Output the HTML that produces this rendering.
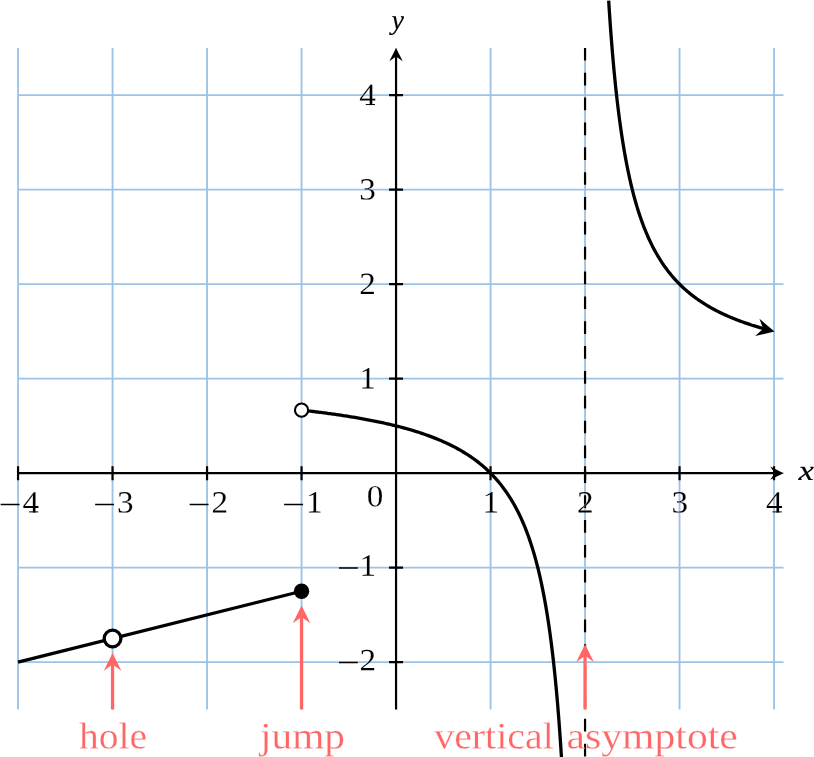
<!DOCTYPE html>
<html><head><meta charset="utf-8"><title>Discontinuities</title>
<style>html,body{margin:0;padding:0;background:#fff;overflow:hidden}svg{display:block;will-change:transform}text{font-family:"Liberation Serif",serif}</style></head><body>
<svg width="814" height="757" viewBox="0 0 814 757">
<rect width="814" height="757" fill="#fff"/>
<path d="M18.05 47.90V709.40M112.55 47.90V709.40M207.05 47.90V709.40M301.55 47.90V709.40M396.05 47.90V709.40M490.55 47.90V709.40M585.05 47.90V709.40M679.55 47.90V709.40M774.05 47.90V709.40M18.05 662.15H783.50M18.05 567.65H783.50M18.05 473.15H783.50M18.05 378.65H783.50M18.05 284.15H783.50M18.05 189.65H783.50M18.05 95.15H783.50" stroke="#9cc3e6" stroke-width="1.85" fill="none"/>
<path d="M18.05 473.15H777.50M396.05 709.40V53.90" stroke="#000" stroke-width="2.2" fill="none"/>
<polygon points="783.50,473.15 770.20,466.45 774.90,473.15 770.20,479.85" fill="#000"/>
<polygon points="396.05,47.90 389.35,61.20 396.05,56.50 402.75,61.20" fill="#000"/>
<path d="M18.05 466.15V480.15M112.55 466.15V480.15M207.05 466.15V480.15M301.55 466.15V480.15M490.55 466.15V480.15M585.05 466.15V480.15M679.55 466.15V480.15M774.05 466.15V480.15M389.05 662.15H403.05M389.05 567.65H403.05M389.05 378.65H403.05M389.05 284.15H403.05M389.05 189.65H403.05M389.05 95.15H403.05" stroke="#000" stroke-width="2.2" fill="none"/>
<path d="M585.05 47.90V757" stroke="#000" stroke-width="2.2" stroke-dasharray="12.7 12.15" fill="none"/>
<path d="M18.05 662.15L301.55 591.27" stroke="#000" stroke-width="3.3" fill="none"/>
<path d="M301.55 410.15L302.85 410.30L304.15 410.44L305.45 410.59L306.75 410.74L308.05 410.89L309.35 411.04L310.65 411.20L311.95 411.35L313.26 411.51L314.56 411.66L315.86 411.82L317.16 411.99L318.46 412.15L319.76 412.31L321.06 412.48L322.36 412.65L323.66 412.81L324.96 412.99L326.26 413.16L327.56 413.33L328.86 413.51L330.16 413.69L331.46 413.87L332.76 414.05L334.06 414.23L335.36 414.42L336.67 414.60L337.97 414.79L339.27 414.98L340.57 415.18L341.87 415.37L343.17 415.57L344.47 415.77L345.77 415.97L347.07 416.18L348.37 416.38L349.67 416.59L350.97 416.80L352.27 417.01L353.57 417.23L354.87 417.45L356.17 417.67L357.47 417.89L358.77 418.12L360.08 418.34L361.38 418.58L362.68 418.81L363.98 419.04L365.28 419.28L366.58 419.53L367.88 419.77L369.18 420.02L370.48 420.27L371.78 420.52L373.08 420.78L374.38 421.04L375.68 421.30L376.98 421.57L378.28 421.84L379.58 422.11L380.88 422.39L382.18 422.67L383.49 422.95L384.79 423.24L386.09 423.53L387.39 423.83L388.69 424.13L389.99 424.43L391.29 424.74L392.59 425.05L393.89 425.37L395.19 425.69L396.49 426.01L397.79 426.34L399.09 426.67L400.39 427.01L401.69 427.35L402.99 427.70L404.29 428.05L405.59 428.41L406.90 428.78L408.20 429.14L409.50 429.52L410.80 429.90L412.10 430.28L413.40 430.68L414.70 431.07L416.00 431.48L417.30 431.89L418.60 432.30L419.90 432.72L421.20 433.15L422.50 433.59L423.80 434.03L425.10 434.48L426.40 434.94L427.70 435.41L429.00 435.88L430.31 436.36L431.61 436.85L432.91 437.35L434.21 437.85L435.51 438.37L436.81 438.89L438.11 439.42L439.41 439.97L440.71 440.52L442.01 441.08L443.31 441.65L444.61 442.24L445.91 442.83L447.21 443.44L448.51 444.06L449.81 444.68L451.11 445.33L452.41 445.98L453.72 446.65L455.02 447.33L456.32 448.02L457.62 448.73L458.92 449.45L460.22 450.19L461.52 450.94L462.82 451.71L464.12 452.50L465.42 453.30L466.72 454.12L468.02 454.96L469.32 455.82L470.62 456.69L471.92 457.59L473.22 458.51L474.52 459.45L475.82 460.41L477.13 461.40L478.43 462.40L479.73 463.44L481.03 464.50L482.33 465.59L483.63 466.70L484.93 467.84L486.23 469.02L487.53 470.22L488.83 471.46L490.13 472.73L491.43 474.04L492.73 475.38L494.03 476.77L495.33 478.19L496.63 479.65L497.93 481.16L499.23 482.71L500.54 484.31L501.84 485.97L503.14 487.67L504.44 489.43L505.74 491.25L507.04 493.12L508.34 495.06L509.64 497.07L510.94 499.15L512.24 501.30L513.54 503.53L514.84 505.85L516.14 508.25L517.44 510.74L518.74 513.33L520.04 516.02L521.34 518.83L522.64 521.75L523.95 524.80L525.25 527.97L526.55 531.29L527.85 534.76L529.15 538.40L530.45 542.20L531.75 546.19L533.05 550.38L534.35 554.79L535.65 559.42L536.95 564.31L538.25 569.47L539.55 574.93L540.85 580.70L542.15 586.83L543.45 593.34L544.75 600.27L546.05 607.66L547.36 615.56L548.66 624.02L549.96 633.12L551.26 642.91L552.56 653.49L553.86 664.95L555.16 677.41L556.46 691.00L557.76 705.88L559.06 722.26L560.36 740.36L561.66 760.47" stroke="#000" stroke-width="3.3" fill="none" stroke-linejoin="round"/>
<path d="M608.67 0.65L609.45 12.73L610.23 24.05L611.01 34.70L611.79 44.73L612.57 54.19L613.35 63.12L614.13 71.58L614.91 79.60L615.69 87.21L616.47 94.44L617.25 101.32L618.03 107.88L618.81 114.13L619.59 120.10L620.37 125.81L621.15 131.27L621.93 136.50L622.71 141.51L623.49 146.32L624.27 150.94L625.05 155.38L625.83 159.65L626.61 163.76L627.39 167.71L628.17 171.53L628.95 175.21L629.72 178.76L630.50 182.18L631.28 185.50L632.06 188.70L632.84 191.80L633.62 194.80L634.40 197.70L635.18 200.52L635.96 203.24L636.74 205.89L637.52 208.46L638.30 210.95L639.08 213.37L639.86 215.72L640.64 218.00L641.42 220.23L642.20 222.39L642.98 224.49L643.76 226.54L644.54 228.53L645.32 230.47L646.10 232.37L646.88 234.21L647.66 236.01L648.44 237.76L649.22 239.47L650.00 241.15L650.77 242.78L651.55 244.37L652.33 245.93L653.11 247.45L653.89 248.93L654.67 250.38L655.45 251.80L656.23 253.19L657.01 254.55L657.79 255.88L658.57 257.18L659.35 258.46L660.13 259.71L660.91 260.93L661.69 262.13L662.47 263.30L663.25 264.45L664.03 265.58L664.81 266.68L665.59 267.77L666.37 268.83L667.15 269.87L667.93 270.90L668.71 271.90L669.49 272.89L670.27 273.85L671.05 274.80L671.82 275.74L672.60 276.65L673.38 277.55L674.16 278.44L674.94 279.31L675.72 280.16L676.50 281.00L677.28 281.83L678.06 282.64L678.84 283.44L679.62 284.22L680.40 284.99L681.18 285.75L681.96 286.50L682.74 287.24L683.52 287.96L684.30 288.67L685.08 289.37L685.86 290.06L686.64 290.74L687.42 291.41L688.20 292.07L688.98 292.72L689.76 293.36L690.54 293.99L691.32 294.61L692.09 295.22L692.87 295.83L693.65 296.42L694.43 297.01L695.21 297.59L695.99 298.16L696.77 298.72L697.55 299.27L698.33 299.82L699.11 300.36L699.89 300.89L700.67 301.41L701.45 301.93L702.23 302.44L703.01 302.94L703.79 303.44L704.57 303.93L705.35 304.42L706.13 304.89L706.91 305.37L707.69 305.83L708.47 306.29L709.25 306.75L710.03 307.19L710.81 307.64L711.59 308.07L712.37 308.51L713.14 308.93L713.92 309.36L714.70 309.77L715.48 310.18L716.26 310.59L717.04 310.99L717.82 311.39L718.60 311.78L719.38 312.17L720.16 312.55L720.94 312.93L721.72 313.31L722.50 313.68L723.28 314.05L724.06 314.41L724.84 314.77L725.62 315.12L726.40 315.47L727.18 315.82L727.96 316.16L728.74 316.50L729.52 316.83L730.30 317.17L731.08 317.49L731.86 317.82L732.64 318.14L733.41 318.46L734.19 318.77L734.97 319.08L735.75 319.39L736.53 319.70L737.31 320.00L738.09 320.30L738.87 320.59L739.65 320.89L740.43 321.18L741.21 321.46L741.99 321.75L742.77 322.03L743.55 322.31L744.33 322.58L745.11 322.86L745.89 323.13L746.67 323.39L747.45 323.66L748.23 323.92L749.01 324.18L749.79 324.44L750.57 324.70L751.35 324.95L752.13 325.20L752.91 325.45L753.69 325.69L754.46 325.94L755.24 326.18L756.02 326.42L756.80 326.66L757.58 326.89L758.36 327.12L759.14 327.35L759.92 327.58L760.70 327.81L761.48 328.03L762.26 328.26L763.04 328.48L763.82 328.70L764.60 328.91" stroke="#000" stroke-width="3.3" fill="none" stroke-linejoin="round"/>
<polygon points="774.45,331.60 759.44,318.67 763.20,328.79 755.12,335.94" fill="#000"/>
<path d="M112.55 709.40V661.00" stroke="#ff6666" stroke-width="3.3" fill="none"/>
<polygon points="112.55,653.00 103.75,670.70 112.55,664.60 121.35,670.70" fill="#ff6666"/>
<path d="M301.55 709.40V613.50" stroke="#ff6666" stroke-width="3.3" fill="none"/>
<polygon points="301.55,605.50 292.75,623.20 301.55,617.10 310.35,623.20" fill="#ff6666"/>
<path d="M585.05 709.40V652.25" stroke="#ff6666" stroke-width="3.3" fill="none"/>
<polygon points="585.05,644.25 576.25,661.95 585.05,655.85 593.85,661.95" fill="#ff6666"/>
<circle cx="112.55" cy="638.52" r="8.35" fill="#fff" stroke="#000" stroke-width="3.3"/>
<circle cx="301.55" cy="591.27" r="7.7" fill="#000"/>
<circle cx="301.55" cy="410.15" r="6.6" fill="#fff" stroke="#000" stroke-width="2.1"/>
<text transform="translate(30.85 512.40) scale(1.07 1) rotate(0.03)" font-size="31" text-anchor="middle" stroke="#fff" stroke-width="0.15">4</text>
<text transform="translate(125.35 512.40) scale(1.07 1) rotate(0.03)" font-size="31" text-anchor="middle" stroke="#fff" stroke-width="0.15">3</text>
<text transform="translate(219.85 512.40) scale(1.07 1) rotate(0.03)" font-size="31" text-anchor="middle" stroke="#fff" stroke-width="0.15">2</text>
<text transform="translate(314.35 512.40) scale(1.07 1) rotate(0.03)" font-size="31" text-anchor="middle" stroke="#fff" stroke-width="0.15">1</text>
<text transform="translate(490.85 512.40) scale(1.07 1) rotate(0.03)" font-size="31" text-anchor="middle" stroke="#fff" stroke-width="0.15">1</text>
<text transform="translate(585.35 512.40) scale(1.07 1) rotate(0.03)" font-size="31" text-anchor="middle" stroke="#fff" stroke-width="0.15">2</text>
<text transform="translate(679.85 512.40) scale(1.07 1) rotate(0.03)" font-size="31" text-anchor="middle" stroke="#fff" stroke-width="0.15">3</text>
<text transform="translate(774.35 512.40) scale(1.07 1) rotate(0.03)" font-size="31" text-anchor="middle" stroke="#fff" stroke-width="0.15">4</text>
<text transform="translate(367.80 670.15) scale(1.07 1) rotate(0.03)" font-size="31" text-anchor="middle" stroke="#fff" stroke-width="0.15">2</text>
<text transform="translate(367.80 575.65) scale(1.07 1) rotate(0.03)" font-size="31" text-anchor="middle" stroke="#fff" stroke-width="0.15">1</text>
<text transform="translate(367.60 388.55) scale(1.07 1) rotate(0.03)" font-size="31" text-anchor="middle" stroke="#fff" stroke-width="0.15">1</text>
<text transform="translate(367.60 294.05) scale(1.07 1) rotate(0.03)" font-size="31" text-anchor="middle" stroke="#fff" stroke-width="0.15">2</text>
<text transform="translate(367.60 199.55) scale(1.07 1) rotate(0.03)" font-size="31" text-anchor="middle" stroke="#fff" stroke-width="0.15">3</text>
<text transform="translate(367.60 105.05) scale(1.07 1) rotate(0.03)" font-size="31" text-anchor="middle" stroke="#fff" stroke-width="0.15">4</text>
<text transform="translate(375.00 506.60) scale(1.07 1) rotate(0.03)" font-size="31" text-anchor="middle" stroke="#fff" stroke-width="0.15">0</text>
<path d="M29.05 511.90H38.25M772.55 511.90H781.75M365.80 104.55H375.00" stroke="#000" stroke-width="1.0" fill="none"/>
<path d="M0.65 504.50H19.55M95.15 504.50H114.05M189.65 504.50H208.55M284.15 504.50H303.05M339.00 662.50H357.80M339.00 568.00H357.80" stroke="#000" stroke-width="1.5" fill="none"/>
<text transform="translate(798.5 480.4) scale(1.22 1) rotate(0.03)" font-size="28.5" font-style="italic" stroke="#000" stroke-width="0.15">x</text>
<text transform="translate(391.4 29.0) rotate(0.03)" font-size="28" font-style="italic" stroke="#000" stroke-width="0.15">y</text>
<text transform="rotate(0.03 79.0 748.5)" x="79.00" y="748.5" font-size="37.5" fill="#ff6666" textLength="68.00" lengthAdjust="spacingAndGlyphs" stroke="#fff" stroke-width="0.25">hole</text>
<text transform="rotate(0.03 260.0 748.5)" x="260.00" y="748.5" font-size="37.5" fill="#ff6666" textLength="85.00" lengthAdjust="spacingAndGlyphs" stroke="#fff" stroke-width="0.25">jump</text>
<text transform="rotate(0.03 434.2 748.5)" x="434.20" y="748.5" font-size="37.5" fill="#ff6666" textLength="119.60" lengthAdjust="spacingAndGlyphs" stroke="#fff" stroke-width="0.25">vertical</text>
<text transform="rotate(0.03 566.6 748.5)" x="566.60" y="748.5" font-size="37.5" fill="#ff6666" textLength="171.20" lengthAdjust="spacingAndGlyphs" stroke="#fff" stroke-width="0.25">asymptote</text>
</svg></body></html>
